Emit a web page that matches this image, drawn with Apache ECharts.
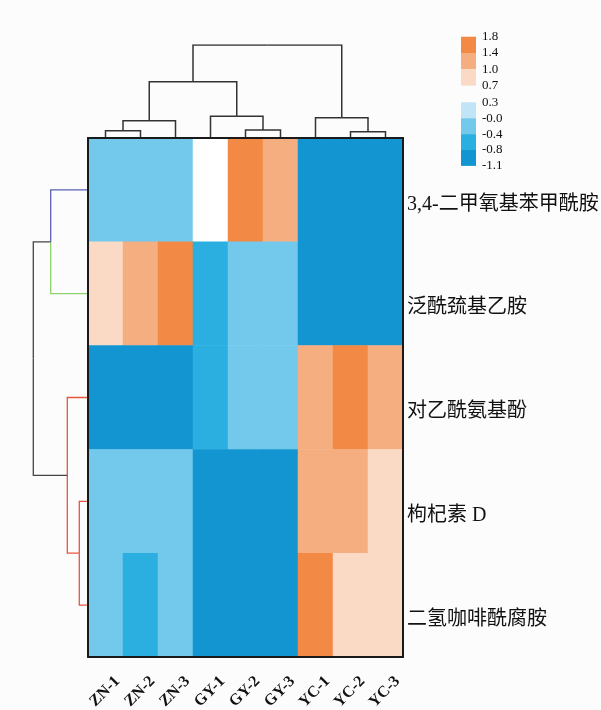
<!DOCTYPE html>
<html>
<head>
<meta charset="utf-8">
<script src="https://cdn.jsdelivr.net/npm/echarts@6/dist/echarts.min.js"></script>
<style>
  html, body { margin: 0; padding: 0; background: #fcfcfc; }
  #chart { width: 601px; height: 710px; }
</style>
</head>
<body>
<div id="chart"></div>
<script>
// Samples (columns) and compounds (rows)
const samples = ['ZN-1', 'ZN-2', 'ZN-3', 'GY-1', 'GY-2', 'GY-3', 'YC-1', 'YC-2', 'YC-3'];
const compounds = ['3,4-二甲氧基苯甲酰胺', '泛酰巯基乙胺', '对乙酰氨基酚', '枸杞素 D', '二氢咖啡酰腐胺'];

// Standardised abundance, one array per compound (in sample order)
const row1 = [-0.2, -0.2, -0.2, 0.5, 1.6, 1.2, -0.95, -0.95, -0.95];
const row2 = [0.85, 1.2, 1.6, -0.6, -0.25, -0.25, -0.95, -0.95, -0.95];
const row3 = [-0.95, -0.95, -0.95, -0.55, -0.2, -0.2, 1.2, 1.6, 1.2];
const row4 = [-0.2, -0.2, -0.2, -0.95, -0.95, -0.95, 1.25, 1.25, 0.85];
const row5 = [-0.2, -0.5, -0.2, -0.95, -0.95, -0.95, 1.6, 0.85, 0.85];
const rows = [row1, row2, row3, row4, row5];

// Colour scale break points
const breaks = [-1.1, -0.8, -0.4, 0.0, 0.3, 0.7, 1.0, 1.4, 1.8];
const warmTicks = ['1.8', '1.4', '1.0', '0.7'];
const coolTicks = ['0.3', '-0.0', '-0.4', '-0.8', '-1.1'];

// Column clustering: [childA, childB, height]; leaves are 0..8
const colMerges = [
  [0, 1, 0.73],
  [7, 8, 0.63],
  [4, 5, 0.80],
  [9, 2, 1.73],
  [6, 10, 2.03],
  [3, 11, 2.17],
  [12, 14, 5.63],
  [15, 13, 9.3]
];
// Row clustering: leaves are 0..4
const rowMerges = [
  [3, 4, 0.87],
  [2, 5, 2.07],
  [0, 1, 3.73],
  [7, 6, 5.47]
];

// ---- styling ----
const pieceColors = ['#1395d2', '#2aafe0', '#72c9ec', '#bfe5f6', '#ffffff', '#fbdac5', '#f5ae80', '#f28a46'];
const rowLinkColors = [['#e8553f', '#e8553f'], ['#e8553f', '#e8553f'], ['#5a5fb8', '#8fd16c'], ['#444444', '#444444']];
const serif = '"Liberation Serif", "Times New Roman", "Noto Sans CJK SC", serif';

// Build dendrogram segments (each half of a link as its own polyline)
function dendro(merges, nLeaves, horizontal, colors) {
  const pos = [], hgt = [];
  for (let i = 0; i < nLeaves; i++) { pos.push(i + 0.5); hgt.push(0); }
  const segs = [];
  merges.forEach((m, k) => {
    const [a, b, h] = m;
    const pa = pos[a], pb = pos[b];
    const mid = (pa + pb) / 2;
    const halfA = [[pa, hgt[a]], [pa, h], [mid, h]];
    const halfB = [[mid, h], [pb, h], [pb, hgt[b]]];
    [halfA, halfB].forEach((half, side) => {
      const coords = half.map(p => horizontal ? [p[1], p[0]] : [p[0], p[1]]);
      const item = { coords: coords };
      if (colors) item.lineStyle = { color: colors[k][side] };
      segs.push(item);
    });
    pos.push(mid);
    hgt.push(h);
  });
  return segs;
}

const heatData = [];
rows.forEach((r, yi) => r.forEach((v, xi) => heatData.push([xi, yi, v])));

const pieces = [];
for (let i = 0; i < breaks.length - 1; i++) {
  pieces.push({ gte: breaks[i], lt: breaks[i + 1], color: pieceColors[i] });
}
pieces[pieces.length - 1].lte = breaks[breaks.length - 1];
delete pieces[pieces.length - 1].lt;

// Colour key, drawn as stacked blocks with labels on the boundaries
const legendGraphics = [];
const keyX = 461, keyW = 15;
function keyBlock(top, step, colors, ticks) {
  colors.forEach((c, i) => {
    legendGraphics.push({
      type: 'rect', shape: { x: keyX, y: top + i * step, width: keyW, height: step },
      style: { fill: c }
    });
  });
  ticks.forEach((t, i) => {
    legendGraphics.push({
      type: 'text', x: keyX + keyW + 6, y: top + i * step,
      style: { text: t, font: '13px ' + serif, fill: '#111', verticalAlign: 'middle', align: 'left' }
    });
  });
}
keyBlock(36.7, 16.3, pieceColors.slice(5).reverse(), warmTicks);
keyBlock(102.3, 15.9, pieceColors.slice(0, 4).reverse(), coolTicks);

const frame = { show: true, lineStyle: { color: '#1a1a1a', width: 2 } };

const option = {
  backgroundColor: '#fcfcfc',
  animation: false,
  grid: [
    { left: 88, top: 138, width: 315, height: 519, outerBoundsMode: 'none', containLabel: false },
    { left: 88, top: 45, width: 315, height: 93, outerBoundsMode: 'none' },
    { left: 33, top: 138, width: 55, height: 519, outerBoundsMode: 'none' }
  ],
  xAxis: [
    {
      type: 'category', gridIndex: 0, data: samples, position: 'bottom', z: 10,
      axisLine: frame, axisTick: { show: false }, splitLine: { show: false },
      axisLabel: {
        interval: 0, hideOverlap: false,
        rotate: 45, margin: 10, verticalAlign: 'top', lineHeight: 34,
        fontFamily: serif, fontWeight: 'bold', fontSize: 16, color: '#111'
      }
    },
    {
      type: 'category', gridIndex: 0, data: samples, position: 'top', z: 10,
      axisLine: frame, axisTick: { show: false }, axisLabel: { show: false }
    },
    { type: 'value', gridIndex: 1, min: 0, max: 9, show: false },
    { type: 'value', gridIndex: 2, min: 0, max: 5.5, inverse: true, show: false }
  ],
  yAxis: [
    {
      type: 'category', gridIndex: 0, data: compounds, position: 'right', inverse: true, z: 10,
      axisLine: frame, axisTick: { show: false }, splitLine: { show: false },
      axisLabel: {
        interval: 0, hideOverlap: false,
        margin: 4, verticalAlign: 'top', lineHeight: 29,
        fontFamily: serif, fontSize: 20, color: '#111'
      }
    },
    {
      type: 'category', gridIndex: 0, data: compounds, position: 'left', inverse: true, z: 10,
      axisLine: frame, axisTick: { show: false }, axisLabel: { show: false }
    },
    { type: 'value', gridIndex: 1, min: 0, max: 9.3, show: false },
    { type: 'value', gridIndex: 2, min: 0, max: 5, inverse: true, show: false }
  ],
  visualMap: {
    type: 'piecewise', show: false, seriesIndex: 0, dimension: 2, pieces: pieces
  },
  series: [
    {
      type: 'heatmap', xAxisIndex: 0, yAxisIndex: 0, data: heatData,
      itemStyle: { borderWidth: 0 }, emphasis: { disabled: true }
    },
    {
      type: 'lines', coordinateSystem: 'cartesian2d', xAxisIndex: 2, yAxisIndex: 2,
      polyline: true, data: dendro(colMerges, samples.length, false, null),
      lineStyle: { color: '#333', width: 1.5, opacity: 1 }, silent: true
    },
    {
      type: 'lines', coordinateSystem: 'cartesian2d', xAxisIndex: 3, yAxisIndex: 3,
      polyline: true, data: dendro(rowMerges, compounds.length, true, rowLinkColors),
      lineStyle: { width: 1.3, opacity: 1 }, silent: true
    }
  ],
  graphic: legendGraphics
};

const chart = echarts.init(document.getElementById('chart'), null, { renderer: 'canvas' });
chart.setOption(option);
</script>
</body>
</html>
